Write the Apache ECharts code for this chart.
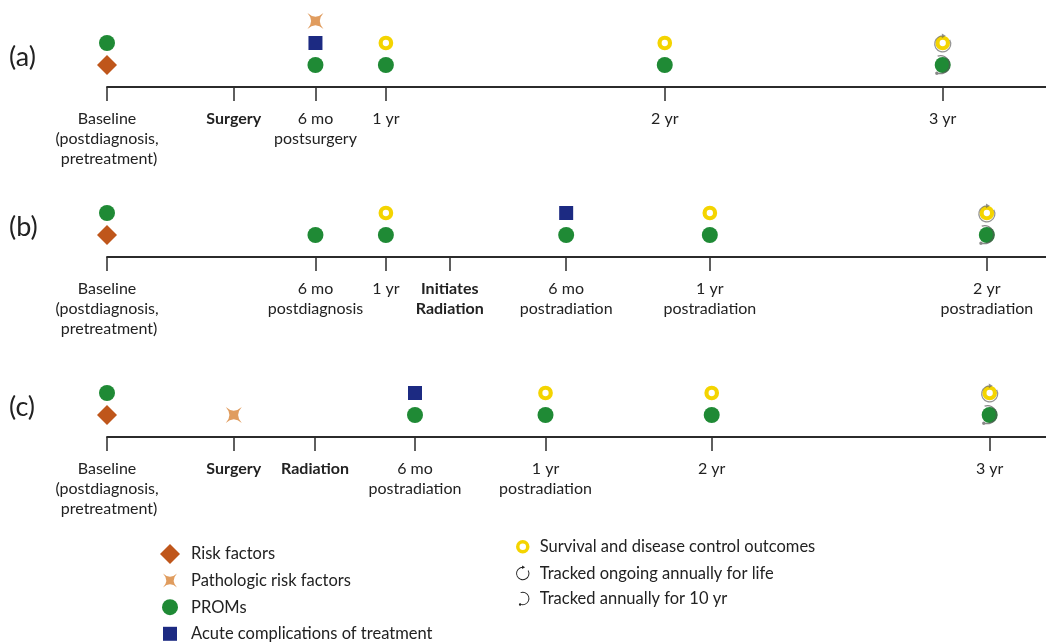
<!DOCTYPE html>
<html>
<head>
<meta charset="utf-8">
<script src="https://cdn.jsdelivr.net/npm/echarts@6/dist/echarts.min.js"></script>
<style>
  html, body { margin: 0; padding: 0; background: #fff; }
  #timeline { width: 1046px; height: 643px; }
</style>
</head>
<body>
<div id="timeline"></div>
<script>
// positions run on a 0-100 scale along each timeline, levels are the marker rows above the line
const rowNames = ['(a)', '(b)', '(c)'];

const ticksA = [0, 13.5, 22.2, 29.7, 59.4, 89.0];
const labelsA = ['Baseline\n(postdiagnosis,\n pretreatment)', 'Surgery', '6 mo\npostsurgery', '1 yr', '2 yr', '3 yr'];
const ticksB = [0, 22.2, 29.7, 36.5, 48.9, 64.2, 93.7];
const labelsB = ['Baseline\n(postdiagnosis,\n pretreatment)', '6 mo\npostdiagnosis', '1 yr', 'Initiates\nRadiation', '6 mo\npostradiation', '1 yr\npostradiation', '2 yr\npostradiation'];
const ticksC = [0, 13.5, 22.15, 32.8, 46.7, 64.4, 94.0];
const labelsC = ['Baseline\n(postdiagnosis,\n pretreatment)', 'Surgery', 'Radiation', '6 mo\npostradiation', '1 yr\npostradiation', '2 yr', '3 yr'];
const boldLabels = ['Surgery', 'Radiation', 'Initiates\nRadiation'];

const riskA = [[0, 1]];
const pathoA = [[22.2, 3]];
const promsA = [[0, 2], [22.2, 1], [29.7, 1], [59.4, 1], [89.0, 1]];
const acuteA = [[22.2, 2]];
const survA = [[29.7, 2], [59.4, 2], [89.0, 2]];
const lifeA = [[89.0, 2]];
const tenA = [[89.0, 1]];

const riskB = [[0, 1]];
const pathoB = [];
const promsB = [[0, 2], [22.2, 1], [29.7, 1], [48.9, 1], [64.2, 1], [93.7, 1]];
const acuteB = [[48.9, 2]];
const survB = [[29.7, 2], [64.2, 2], [93.7, 2]];
const lifeB = [[93.7, 2]];
const tenB = [[93.7, 1]];

const riskC = [[0, 1]];
const pathoC = [[13.5, 1]];
const promsC = [[0, 2], [32.8, 1], [46.7, 1], [64.4, 1], [94.0, 1]];
const acuteC = [[32.8, 2]];
const survC = [[46.7, 2], [64.4, 2], [94.0, 2]];
const lifeC = [[94.0, 2]];
const tenC = [[94.0, 1]];

const legendLeft = ['Risk factors', 'Pathologic risk factors', 'PROMs', 'Acute complications of treatment'];
const legendRight = ['Survival and disease control outcomes', 'Tracked ongoing annually for life', 'Tracked annually for 10 yr'];

const rows = [
    { ticks: ticksA, labels: labelsA, marks: [riskA, pathoA, promsA, acuteA, survA, lifeA, tenA] },
    { ticks: ticksB, labels: labelsB, marks: [riskB, pathoB, promsB, acuteB, survB, lifeB, tenB] },
    { ticks: ticksC, labels: labelsC, marks: [riskC, pathoC, promsC, acuteC, survC, lifeC, tenC] }
];

const STAR = 'path://M0 0Q12 11 24 0Q13 12 24 24Q12 13 0 24Q11 12 0 0Z';
const LIFE_SHAPE = 'M20.66 7A10 10 0 1 1 12 2L12 3.4A8.6 8.6 0 1 0 19.45 7.7ZM11 0L15.5 2.7L11 5.4Z';
const TEN_SHAPE = 'M8.58 2.6A10 10 0 1 1 8.58 21.4L9.06 20.08A8.6 8.6 0 1 0 9.06 3.92ZM9.8 21A1.8 1.8 0 1 1 6.2 21A1.8 1.8 0 1 1 9.8 21Z';

const FONT = 'Lato';
const TEXT = '#222';

const markStyle = [
    { symbol: 'diamond', size: 20, itemStyle: { color: '#bf561b', opacity: 1 } },
    { symbol: STAR, size: 16, itemStyle: { color: '#e09c5e', opacity: 1 } },
    { symbol: 'circle', size: 16, itemStyle: { color: '#1f8a35', opacity: 1 } },
    { symbol: 'rect', size: 14, itemStyle: { color: '#1c2a82', opacity: 1 } },
    { symbol: 'circle', size: 10.5, itemStyle: { color: '#fff', borderColor: '#f4d400', borderWidth: 4.2, opacity: 1 } },
    { symbol: 'path://' + LIFE_SHAPE, size: 19, itemStyle: { color: '#666', opacity: 0.7 } },
    { symbol: 'path://' + TEN_SHAPE, size: 20, itemStyle: { color: '#555', opacity: 0.7 } }
];
const markNames = legendLeft.concat(legendRight);

const gridTops = [21, 191, 371];

function labelText(ticks, labels, v, idx) {
    let i = ticks.indexOf(v);
    if (i < 0) i = idx;
    let s = labels[i] || '';
    if (boldLabels.indexOf(s) >= 0) {
        return s.split('\n').map(t => '{b|' + t + '}').join('\n');
    }
    return s;
}

let chart = echarts.init(document.getElementById('timeline'));

let series = [];
rows.forEach((row, r) => {
    row.marks.forEach((data, k) => {
        if (!data.length) return;
        series.push({
            name: markNames[k],
            type: 'scatter',
            xAxisIndex: r,
            yAxisIndex: r,
            symbol: markStyle[k].symbol,
            symbolSize: markStyle[k].size,
            symbolKeepAspect: true,
            itemStyle: markStyle[k].itemStyle,
            clip: false,
            silent: true,
            z: 2 + k,
            data: data
        });
    });
});

chart.setOption({
    animation: false,
    title: rowNames.map((t, i) => ({
        text: t,
        left: 9,
        top: gridTops[i] + 23,
        padding: 0,
        textStyle: { fontFamily: FONT, fontSize: 27, fontWeight: 'normal', color: TEXT }
    })),
    legend: [
        {
            orient: 'vertical',
            left: 160,
            top: 544,
            height: 130,
            padding: 0,
            itemWidth: 20,
            itemHeight: 20,
            itemGap: 6.6,
            selectedMode: false,
            textStyle: { fontFamily: FONT, fontSize: 16.5, color: TEXT, padding: [0, 0, 0, 6] },
            data: [
                { name: legendLeft[0], icon: 'path://M0 0M20 20M10 0L20 10L10 20L0 10Z' },
                { name: legendLeft[1], icon: 'path://M0 0M20 20M3 3Q10 9.5 17 3Q10.5 10 17 17Q10 10.5 3 17Q9.5 10 3 3Z' },
                { name: legendLeft[2], icon: 'path://M0 0M20 20M18 10A8 8 0 1 1 2 10A8 8 0 1 1 18 10Z' },
                { name: legendLeft[3], icon: 'path://M0 0M20 20M3 3L17 3L17 17L3 17Z' }
            ]
        },
        {
            orient: 'vertical',
            left: 511,
            top: 535,
            height: 100,
            padding: 0,
            itemWidth: 20,
            itemHeight: 20,
            itemGap: 5,
            selectedMode: false,
            textStyle: { fontFamily: FONT, fontSize: 16.5, color: TEXT, padding: [0, 0, 0, 2] },
            data: [
                { name: legendRight[0], icon: 'path://M0 0M20 20M15 10A5 5 0 1 1 5 10A5 5 0 1 1 15 10Z',
                  itemStyle: { color: '#fff', borderColor: '#f4d400', borderWidth: 3.5, opacity: 1 } },
                { name: legendRight[1], icon: 'path://M-3 -3M27 27' + LIFE_SHAPE,
                  itemStyle: { color: '#222', borderWidth: 0, opacity: 1 } },
                { name: legendRight[2], icon: 'path://M-3 -3M27 27' + TEN_SHAPE,
                  itemStyle: { color: '#222', borderWidth: 0, opacity: 1 } }
            ]
        }
    ],
    grid: gridTops.map(t => ({ left: 107, right: 0, top: t, height: 66 })),
    xAxis: rows.map((row, r) => ({
        gridIndex: r,
        type: 'value',
        min: 0,
        max: 100,
        axisLine: { show: true, onZero: false, lineStyle: { color: '#2b2b2b', width: 1.8 } },
        axisTick: { show: true, customValues: row.ticks, length: 14, lineStyle: { color: '#2b2b2b', width: 1.5 } },
        axisLabel: {
            show: true,
            customValues: row.ticks,
            formatter: (v, idx) => labelText(row.ticks, row.labels, v, idx),
            margin: 22,
            color: TEXT,
            fontFamily: FONT,
            fontSize: 16,
            lineHeight: 20,
            rich: {
                b: { fontFamily: FONT, fontSize: 16, fontWeight: 'bold', lineHeight: 20, color: TEXT }
            }
        },
        splitLine: { show: false }
    })),
    yAxis: rows.map((row, r) => ({
        gridIndex: r,
        type: 'value',
        min: 0,
        max: 3,
        show: false
    })),
    series: series
});
</script>
</body>
</html>
